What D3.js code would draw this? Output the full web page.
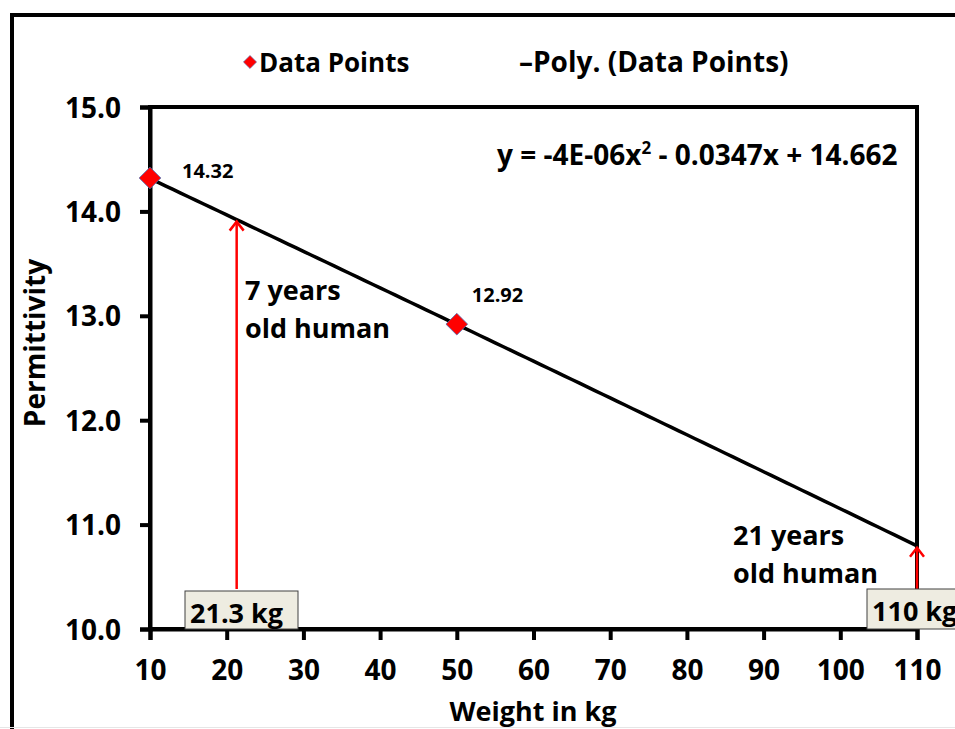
<!DOCTYPE html>
<html>
<head>
<meta charset="utf-8">
<script src="https://cdn.jsdelivr.net/npm/d3@7"></script>
<style>
  html, body { margin: 0; padding: 0; background: #fff; }
  svg { display: block; font-family: "Open Sans", Lato, sans-serif; font-weight: bold; }
</style>
</head>
<body>
<svg id="chart" width="955" height="729"></svg>
<script>
// Measured permittivity against body weight
const weights = [10, 50];
const permittivity = [14.32, 12.92];

// Second-order polynomial fit of the measurements
const fitCoeffs = [14.662, -0.0347, -4e-6]; // c0, c1, c2
const fitLabel = "y = -4E-06x";
const fitLabelTail = " - 0.0347x + 14.662";

// Reference weights marked with arrows
const markWeights = [21.3, 110];
const markLabels = ["21.3 kg", "110 kg"];
const markNotes = [["7 years", "old human"], ["21 years", "old human"]];

const xTicks = [10, 20, 30, 40, 50, 60, 70, 80, 90, 100, 110];
const yTicks = [10, 11, 12, 13, 14, 15];

const svg = d3.select("#chart");
const W = 955, H = 729;
const plot = { left: 150, right: 917, top: 107, bottom: 629 };

const x = d3.scaleLinear().domain([10, 110]).range([plot.left, plot.right]);
const y = d3.scaleLinear().domain([10, 15]).range([plot.bottom, plot.top]);
const fit = w => fitCoeffs[0] + fitCoeffs[1] * w + fitCoeffs[2] * w * w;

// Outer chart frame
svg.append("rect")
  .attr("x", 12).attr("y", 15)
  .attr("width", W + 20).attr("height", H + 20)
  .attr("fill", "none").attr("stroke", "#000").attr("stroke-width", 4);
svg.append("line")
  .attr("x1", 0).attr("x2", W).attr("y1", 727.5).attr("y2", 727.5)
  .attr("stroke", "#e6e6e6").attr("stroke-width", 1);

// Plot area border
svg.append("rect")
  .attr("x", plot.left).attr("y", plot.top)
  .attr("width", plot.right - plot.left).attr("height", plot.bottom - plot.top)
  .attr("fill", "none").attr("stroke", "#000").attr("stroke-width", 4);

// Axes
const xAxis = d3.axisBottom(x).tickValues(xTicks).tickSize(11).tickPadding(20)
  .tickFormat(d3.format("d"));
const yAxis = d3.axisLeft(y).tickValues(yTicks).tickSize(10).tickPadding(19)
  .tickFormat(d3.format(".1f"));

const gx = svg.append("g").attr("transform", `translate(0,${plot.bottom})`).call(xAxis);
const gy = svg.append("g").attr("transform", `translate(${plot.left},0)`).call(yAxis);
[gx, gy].forEach(g => {
  g.select(".domain").attr("stroke", "#000").attr("stroke-width", 4);
  g.selectAll(".tick line").attr("stroke", "#000").attr("stroke-width", 4);
  g.selectAll(".tick text")
    .attr("fill", "#000")
    .style("font-family", "'Open Sans', sans-serif")
    .style("font-weight", "bold")
    .style("font-size", "28px");
});
gx.selectAll(".tick text").attr("dy", "0.71em");
gy.selectAll(".tick text").attr("dy", "0.36em");

// Axis titles
svg.append("text")
  .attr("x", 533).attr("y", 721)
  .attr("text-anchor", "middle").style("font-size", "27px")
  .text("Weight in kg");
svg.append("text")
  .attr("transform", "translate(45,343) rotate(-90)")
  .attr("text-anchor", "middle").style("font-size", "28px")
  .text("Permittivity");

// Fitted curve
const fitXs = d3.range(10, 110.001, 1);
svg.append("path")
  .datum(fitXs)
  .attr("fill", "none").attr("stroke", "#000").attr("stroke-width", 3.5)
  .attr("d", d3.line().x(d => x(d)).y(d => y(fit(d))));

// Arrows from the axis up to the fitted curve
const arrowRed = "#ff0000";
markWeights.forEach((w, i) => {
  const ax = x(w), top = y(fit(w));
  const g = svg.append("g").attr("stroke", arrowRed).attr("stroke-width", 2.5).attr("fill", "none");
  g.append("line").attr("x1", ax).attr("x2", ax).attr("y1", plot.bottom - 40).attr("y2", top + 1);
  g.append("path").attr("d", `M${ax - 7},${top + 11} L${ax},${top + 2} L${ax + 7},${top + 11}`);
});

// Weight labels in boxes at the arrow feet
const boxes = [
  { x: 185, y: 591, w: 113, h: 38 },
  { x: 867, y: 589, w: 110, h: 40 }
];
markLabels.forEach((t, i) => {
  const b = boxes[i];
  svg.append("rect")
    .attr("x", b.x).attr("y", b.y).attr("width", b.w).attr("height", b.h)
    .attr("fill", "#eeece1").attr("stroke", "#404040").attr("stroke-width", 1);
  svg.append("text")
    .attr("x", b.x + 5).attr("y", b.y + 32)
    .style("font-size", "27px")
    .text(t);
});

// Age notes beside the arrows
const notePos = [[245, 300], [733, 545]];
markNotes.forEach((lines, i) => {
  lines.forEach((t, j) => {
    svg.append("text")
      .attr("x", notePos[i][0]).attr("y", notePos[i][1] + j * 38)
      .style("font-size", "27px")
      .text(t);
  });
});

// Data points
const diamond = d3.symbol().type(d3.symbolDiamond2).size(300);
svg.selectAll(".pt")
  .data(weights.map((w, i) => [w, permittivity[i]]))
  .join("path")
  .attr("class", "pt")
  .attr("transform", d => `translate(${x(d[0])},${y(d[1])})`)
  .attr("d", diamond)
  .attr("fill", "#ff0000").attr("stroke", "#4a6fb5").attr("stroke-width", 0.8);

// Data value labels
const labelOffsets = [[32, 0], [15, -22]];
weights.forEach((w, i) => {
  svg.append("text")
    .attr("x", x(w) + labelOffsets[i][0]).attr("y", y(permittivity[i]) + labelOffsets[i][1])
    .style("font-size", "20px")
    .text(permittivity[i].toFixed(2));
});

// Fit equation
const eq = svg.append("text").attr("x", 497).attr("y", 165).style("font-size", "28px");
eq.append("tspan").text(fitLabel);
eq.append("tspan").attr("dy", -11).style("font-size", "17px").text("2");
eq.append("tspan").attr("dy", 11).text(fitLabelTail);

// Legend
svg.append("path")
  .attr("transform", "translate(250,62)")
  .attr("d", d3.symbol().type(d3.symbolDiamond2).size(110))
  .attr("fill", "#ff0000").attr("stroke", "#4a6fb5").attr("stroke-width", 0.6);
svg.append("text").attr("x", 259).attr("y", 72).style("font-size", "26px").text("Data Points");
svg.append("text").attr("x", 519).attr("y", 72).style("font-size", "28px").text("\u2013Poly. (Data Points)");
</script>
</body>
</html>
